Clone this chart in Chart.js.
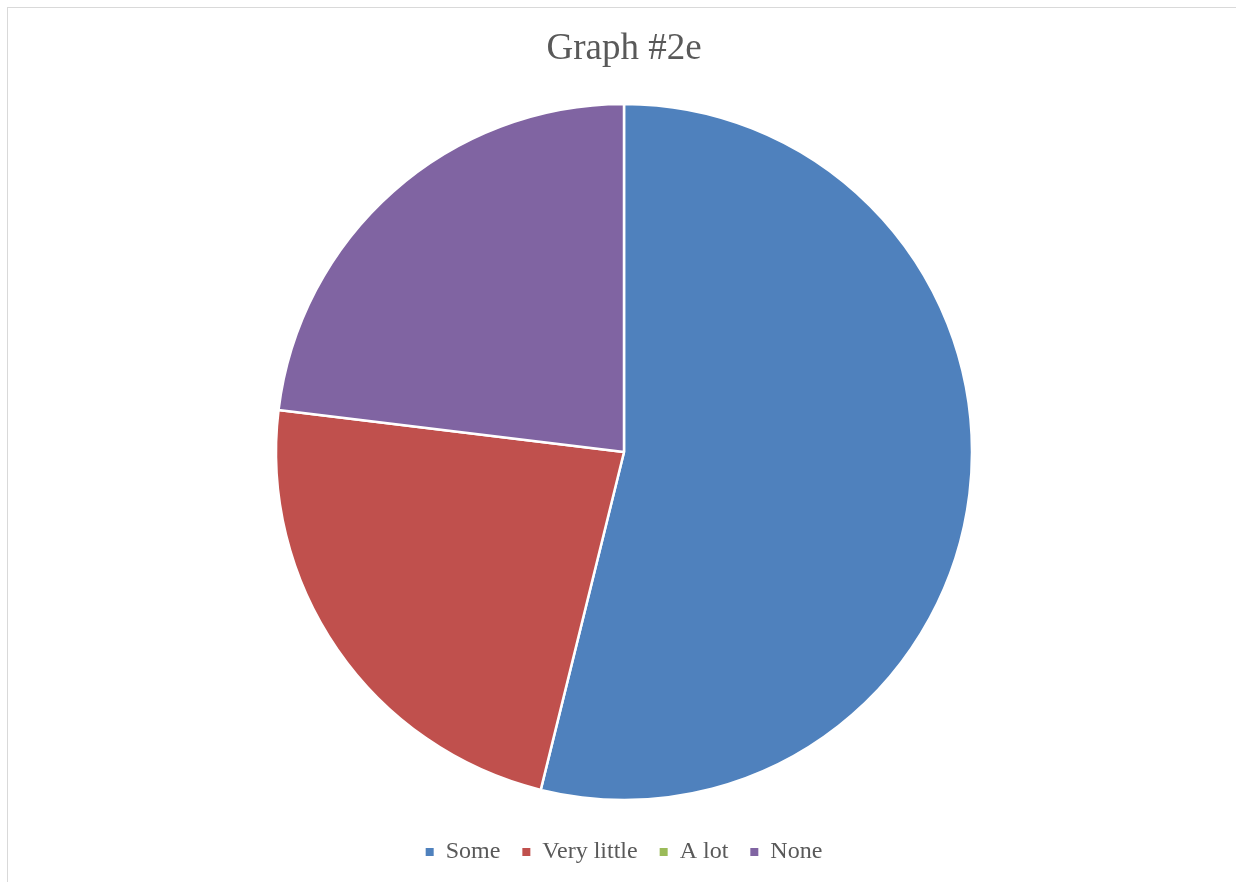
<!DOCTYPE html>
<html>
<head>
<meta charset="utf-8">
<title>Graph #2e</title>
<script src="https://cdn.jsdelivr.net/npm/chart.js@4"></script>
<style>
  html, body { margin: 0; padding: 0; background: #fff; overflow: hidden; }
  #frame {
    position: absolute; left: 7px; top: 7px;
    width: 1240px; height: 900px;
    border: 1px solid #d9d9d9;
    box-sizing: border-box;
  }
  #wrap { position: absolute; left: 0; top: 0; width: 1232px; height: 866px; }
</style>
</head>
<body>
<div id="frame">
  <div id="wrap"><canvas id="chart"></canvas></div>
</div>
<script>
// answers for question 2e
const categories = ['Some', 'Very little', 'A lot', 'None'];
const counts = [7, 3, 0, 3];
const sliceColors = ['#4F81BD', '#C0504D', '#9BBB59', '#8064A2'];

const serif = "'Liberation Serif', 'Times New Roman', serif";

// legend squares without the white slice border
const defaultLabels = Chart.overrides.pie.plugins.legend.labels.generateLabels;

new Chart(document.getElementById('chart'), {
  type: 'pie',
  data: {
    labels: categories,
    datasets: [{
      data: counts,
      backgroundColor: sliceColors,
      borderColor: '#ffffff',
      borderWidth: 2.5,
      hoverOffset: 0
    }]
  },
  options: {
    responsive: true,
    maintainAspectRatio: false,
    animation: false,
    radius: 348,
    layout: { padding: 0 },
    plugins: {
      title: {
        display: true,
        text: 'Graph #2e',
        color: '#595959',
        font: { family: serif, size: 37, weight: 'normal' },
        padding: { top: 19, bottom: 14.6 }
      },
      legend: {
        position: 'bottom',
        labels: {
          color: '#595959',
          font: { family: serif, size: 24 },
          boxWidth: 8,
          boxHeight: 8,
          padding: 22,
          generateLabels: function (chart) {
            return defaultLabels(chart).map(function (item) {
              item.lineWidth = 0;
              item.hidden = false;
              return item;
            });
          }
        }
      },
      tooltip: { enabled: false }
    }
  }
});
</script>
</body>
</html>
